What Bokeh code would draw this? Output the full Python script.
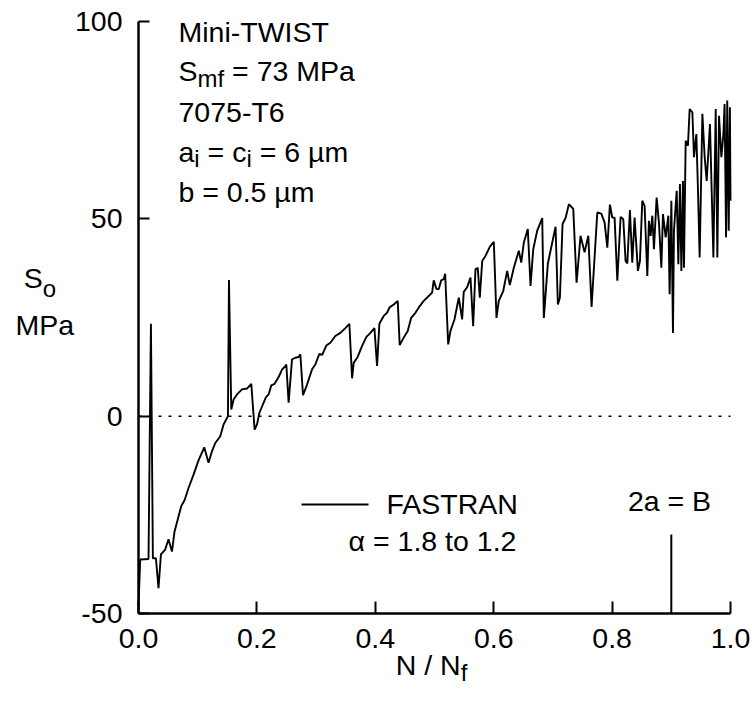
from bokeh.plotting import figure
from bokeh.models import Range1d, FixedTicker, NumeralTickFormatter
from bokeh.core.properties import value
from bokeh.embed import file_html
from bokeh.resources import INLINE

# ---------------- data ----------------
n_ratio = [
    0.0, 0.0029, 0.0169, 0.0210, 0.0243, 0.0294, 0.0338, 0.0379, 0.0451, 0.0507,
    0.0565, 0.0609, 0.0676, 0.0722, 0.0778, 0.0845, 0.0930, 0.1014, 0.1111, 0.1183,
    0.1241, 0.1297, 0.1381, 0.1437, 0.1511, 0.1528, 0.1567, 0.1606, 0.1664, 0.1748,
    0.1833, 0.1905, 0.1961, 0.2002, 0.2041, 0.2113, 0.2154, 0.2198, 0.2243, 0.2299,
    0.2367, 0.2424, 0.2480, 0.2497, 0.2536, 0.2593, 0.2649, 0.2705, 0.2734, 0.2779,
    0.2847, 0.2932, 0.2987, 0.3055, 0.3101, 0.3173, 0.3241, 0.3325, 0.3410, 0.3494,
    0.3562, 0.3608, 0.3635, 0.3702, 0.3777, 0.3850, 0.3917, 0.3985, 0.4030, 0.4069,
    0.4142, 0.4199, 0.4238, 0.4311, 0.4379, 0.4412, 0.4480, 0.4548, 0.4605, 0.4678,
    0.4751, 0.4818, 0.4886, 0.4960, 0.4987, 0.5033, 0.5072, 0.5112, 0.5156, 0.5180,
    0.5231, 0.5270, 0.5337, 0.5410, 0.5467, 0.5494, 0.5552, 0.5608, 0.5653, 0.5692,
    0.5731, 0.5765, 0.5806, 0.5861, 0.5934, 0.6002, 0.6047, 0.6086, 0.6161, 0.6228,
    0.6272, 0.6340, 0.6424, 0.6465, 0.6509, 0.6576, 0.6622, 0.6668, 0.6735, 0.6820,
    0.6847, 0.6915, 0.7045, 0.7084, 0.7118, 0.7163, 0.7214, 0.7270, 0.7344, 0.7400,
    0.7467, 0.7535, 0.7598, 0.7653, 0.7750, 0.7817, 0.7873, 0.7919, 0.7963, 0.8003,
    0.8042, 0.8088, 0.8144, 0.8189, 0.8228, 0.8257, 0.8301, 0.8341, 0.8380, 0.8436,
    0.8470, 0.8510, 0.8549, 0.8595, 0.8622, 0.8651, 0.8679, 0.8707, 0.8752, 0.8791,
    0.8832, 0.8859, 0.8905, 0.8950, 0.8972, 0.9001, 0.9028, 0.9045, 0.9091, 0.9119,
    0.9146, 0.9170, 0.9197, 0.9214, 0.9243, 0.9281, 0.9310, 0.9356, 0.9383, 0.9423,
    0.9451, 0.9479, 0.9525, 0.9564, 0.9598, 0.9653, 0.9711, 0.9750, 0.9778, 0.9806,
    0.9846, 0.9880, 0.9900, 0.9925, 0.9945, 0.9970, 0.9990, 1.0,
]
s_open = [
    -48, -36.3, -36.2, 23.4, -36.0, -36.0, -43.6, -35.0, -33.8, -31.2,
    -34.3, -29.2, -25.4, -22.8, -21.3, -18.2, -14.8, -11.2, -7.9, -11.8,
    -8.9, -6.8, -5.1, -2.1, 0.0, 34.5, 1.7, 4.2, 5.5, 6.8,
    7.0, 8.2, -3.4, -2.1, 0.8, 3.4, 4.8, 5.5, 7.8, 8.2,
    9.9, 11.8, 12.7, 13.1, 3.4, 14.4, 14.8, 15.0, 15.7, 5.3,
    8.0, 11.9, 13.1, 15.8, 15.5, 17.9, 18.6, 20.3, 21.1, 22.3,
    23.4, 9.6, 13.5, 15.0, 17.8, 20.1, 21.1, 22.3, 12.7, 23.4,
    25.4, 26.2, 27.5, 28.3, 29.2, 18.0, 19.9, 21.6, 24.9, 26.2,
    27.9, 29.2, 30.2, 31.3, 34.4, 32.2, 32.2, 34.4, 34.7, 36.1,
    18.2, 21.6, 24.5, 30.0, 24.5, 31.5, 32.7, 35.1, 22.8, 37.2,
    37.6, 30.0, 39.3, 40.6, 42.9, 44.2, 24.9, 29.2, 31.7, 36.8,
    33.2, 37.6, 41.9, 38.9, 44.0, 47.4, 33.0, 42.3, 47.0, 50.2,
    24.9, 38.7, 48.0, 28.3, 30.0, 48.7, 50.2, 53.7, 52.5, 33.8,
    45.7, 41.5, 45.7, 27.7, 51.6, 51.3, 49.1, 42.7, 53.6, 50.3,
    50.3, 34.3, 50.5, 49.9, 39.3, 38.7, 52.2, 38.9, 50.3, 36.8,
    39.3, 54.6, 53.3, 35.5, 49.5, 45.7, 50.8, 42.3, 55.4, 49.1,
    37.6, 51.2, 45.3, 50.8, 30.9, 54.6, 21.1, 47.0, 57.1, 38.5,
    58.8, 36.8, 59.6, 37.6, 69.8, 68.5, 77.8, 77.0, 65.6, 71.5,
    57.1, 40.2, 76.6, 65.6, 59.6, 74.0, 40.2, 77.8, 40.2, 76.1,
    65.6, 71.5, 79.1, 45.3, 80.0, 47.0, 78.3, 54.6,
]
x_ticks = [0.0, 0.2, 0.4, 0.6, 0.8, 1.0]
y_ticks = [-50, 0, 50, 100]
marker_x = 0.9          # 2a = B
marker_top = -30
zero_level = 0

_n = min(len(n_ratio), len(s_open))
n_ratio, s_open = n_ratio[:_n], s_open[:_n]

# ---------------- layout ----------------
W, H = 752, 711
FL, FR, FT, FB = 138, 730, 21, 613      # pixel position of the axes box
X0, X1, Y0, Y1 = 0.0, 1.0, -50.0, 100.0
FONT = "Liberation Sans"
FS = 28.5
SUB = 24
TEXT_FIX = -11   # renderer places the alphabetic baseline lower than asked


def px2x(px):
    return X0 + (px - FL) / (FR - FL) * (X1 - X0)


def py2y(py):
    return Y0 + (FB - py) / (FB - FT) * (Y1 - Y0)


p = figure(width=W, height=H,
           x_range=Range1d(px2x(0), px2x(W)), y_range=Range1d(py2y(H), py2y(0)),
           output_backend="svg", toolbar_location=None,
           min_border_left=0, min_border_right=0,
           min_border_top=0, min_border_bottom=0)
p.title.visible = False
p.outline_line_color = None
p.xgrid.visible = False
p.ygrid.visible = False
p.background_fill_color = "white"
p.border_fill_color = "white"

for ax in (p.xaxis, p.yaxis):
    ax.axis_line_width = 2.5
    ax.axis_line_color = "black"
    ax.major_tick_line_width = 2
    ax.major_tick_line_color = "black"
    ax.major_tick_out = 0
    ax.minor_tick_line_color = None
    ax.major_label_text_font = FONT
    ax.major_label_text_font_size = f"{FS}px"
    ax.major_label_text_color = "black"
p.xaxis.ticker = FixedTicker(ticks=x_ticks)
p.yaxis.ticker = FixedTicker(ticks=y_ticks)
p.xaxis.formatter = NumeralTickFormatter(format="0.0")
p.yaxis.formatter = NumeralTickFormatter(format="0")
p.xaxis.bounds = (X0, X1)
p.yaxis.bounds = (Y0, Y1)
p.xaxis.fixed_location = Y0
p.yaxis.fixed_location = X0
p.xaxis.major_tick_in = 12
p.yaxis.major_tick_in = 11
p.xaxis.major_label_standoff = 15
p.yaxis.major_label_standoff = 16

# zero reference line
p.segment(x0=[X0], y0=[zero_level], x1=[X1], y1=[zero_level], line_color="black",
          line_width=1.5, line_dash="3 7")

p.line(n_ratio, s_open, line_color="black", line_width=1.9)
p.segment(x0=[marker_x], y0=[Y0], x1=[marker_x], y1=[marker_top],
          line_color="black", line_width=2)


CW = {" ": 278, "=": 584, "-": 333, ".": 278, "/": 278, "µ": 576, "α": 578,
      "M": 833, "i": 222, "n": 556, "T": 611, "W": 944, "I": 278, "S": 667,
      "m": 833, "f": 278, "P": 667, "a": 556, "c": 500, "b": 556, "N": 722,
      "o": 556, "A": 667, "F": 611, "R": 722, "t": 278, "B": 667}


def tw(s, size):
    return sum(CW.get(c, 556) for c in s) / 1000.0 * size


def put(runs, x_px, base_px, align="left"):
    total = sum(tw(t, sz) for t, sz, dy in runs)
    x = x_px - (total / 2 if align == "center" else 0)
    for t, sz, dy in runs:
        lead = len(t) - len(t.lstrip(" "))
        xs = x + tw(" " * lead, sz)
        txt = t.strip(" ")
        if txt:
            p.text(x=[px2x(xs)], y=[py2y(base_px + dy + TEXT_FIX)], text=[txt],
                   text_font=value(FONT), text_font_size=f"{sz}px",
                   text_color="black", text_baseline="alphabetic",
                   text_align="left")
        x += tw(t, sz)


# annotation block
put([("Mini-TWIST", FS, 0)], 178, 42)
put([("S", FS, 0), ("mf", SUB, 7.5), (" = 73 MPa", FS, 0)], 178, 81.5)
put([("7075-T6", FS, 0)], 178, 122.5)
put([("a", FS, 0), ("i", SUB, 7), (" = c", FS, 0), ("i", SUB, 7), (" = 6 µm", FS, 0)], 178, 162)
put([("b = 0.5 µm", FS, 0)], 178, 202)

# legend
p.segment(x0=[px2x(301)], y0=[py2y(504)], x1=[px2x(368)], y1=[py2y(504)],
          line_color="black", line_width=1.9)
put([("FASTRAN", FS, 0)], 386, 514.5)
put([("α = 1.8 to 1.2", FS, 0)], 432, 551.5, align="center")
put([("2a = B", FS, 0)], 669, 511.5, align="center")

# axis titles
put([("S", FS, 0), ("o", SUB, 11)], 23.3, 288)
put([("MPa", FS, 0)], 15, 335)
put([("N / N", FS, 0), ("f", SUB, 8)], 431, 675, align="center")

open("out.html", "w").write(file_html(p, INLINE))
